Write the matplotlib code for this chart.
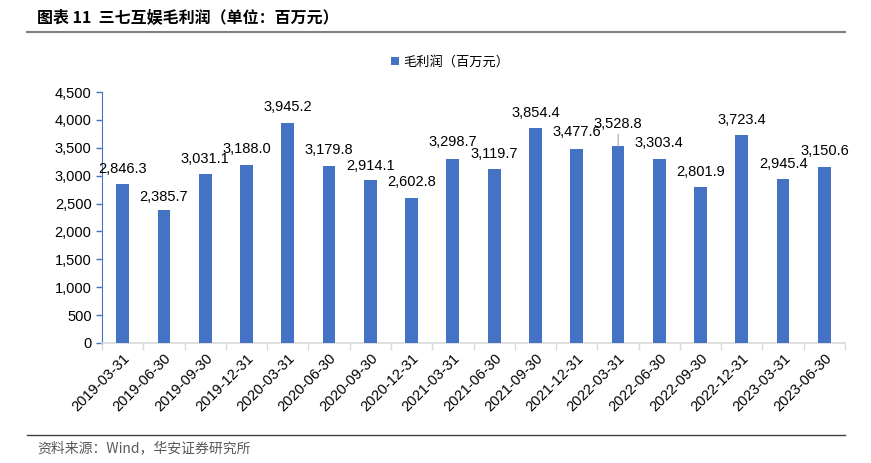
import matplotlib
matplotlib.use("Agg")
import matplotlib.pyplot as plt
from matplotlib.ticker import FuncFormatter, FixedLocator
import numpy as np

plt.rcParams['font.family'] = ['Liberation Sans', 'Noto Sans CJK SC', 'DejaVu Sans']

dates = ["2019-03-31", "2019-06-30", "2019-09-30", "2019-12-31",
         "2020-03-31", "2020-06-30", "2020-09-30", "2020-12-31",
         "2021-03-31", "2021-06-30", "2021-09-30", "2021-12-31",
         "2022-03-31", "2022-06-30", "2022-09-30", "2022-12-31",
         "2023-03-31", "2023-06-30"]
gross_profit = [2846.3, 2385.7, 3031.1, 3188.0, 3945.2, 3179.8, 2914.1, 2602.8,
                3298.7, 3119.7, 3854.4, 3477.6, 3528.8, 3303.4, 2801.9, 3723.4,
                2945.4, 3150.6]
series_name = "毛利润（百万元）"
title = "图表 11  三七互娱毛利润（单位：百万元）"
source = "资料来源：Wind，华安证券研究所"

fig = plt.figure(figsize=(8.71, 4.63), dpi=100)
ax = fig.add_axes([102/871, 1-343/463, (845-102)/871, (343-92)/463])

x = np.arange(len(dates))
bar_color = "#4472C4"
ax.bar(x, gross_profit, width=0.31, color=bar_color, label=series_name, zorder=3)

ax.set_xlim(-0.5, len(dates) - 0.5)
ax.set_ylim(0, 4500)
ax.set_yticks(np.arange(0, 4501, 500))
ax.yaxis.set_major_formatter(FuncFormatter(lambda v, p: f"{int(v):,}"))
ax.tick_params(axis='y', labelsize=10.5, colors=bar_color, labelcolor='black',
               length=4, width=1, direction='out')

ax.set_xticks(x)
ax.set_xticklabels(dates, rotation=45, ha='right', rotation_mode='anchor', fontsize=10.5)
ax.tick_params(axis='x', length=0, pad=6)
ax.xaxis.set_minor_locator(FixedLocator(np.arange(-0.5, len(dates), 1.0)))
ax.tick_params(axis='x', which='minor', length=5, color='#D9D9D9', width=1)

for s in ['top', 'right']:
    ax.spines[s].set_visible(False)
ax.spines['left'].set_color(bar_color)
ax.spines['bottom'].set_color('#D9D9D9')
ax.spines['bottom'].set_linewidth(1.2)

dy_px = [15, 13, 15, 16, 16, 16, 14, 16, 17, 15, 15, 17, 22, 16, 15, 15, 15, 16]
for i, v in enumerate(gross_profit):
    ax.annotate(f"{v:,.1f}", xy=(i, v), xytext=(0, dy_px[i] * 0.72),
                textcoords='offset points', ha='center', va='center', fontsize=10.5,
                color='black', zorder=4)
# leader line for the shifted label
ax.annotate("", xy=(12, 3528.8), xytext=(0.2, 12 * 0.72), textcoords='offset points',
            arrowprops=dict(arrowstyle='-', color='#A6A6A6', lw=0.8,
                            shrinkA=0, shrinkB=0))

leg = fig.legend(loc='center', bbox_to_anchor=(450/871, 1-62/463), frameon=False,
                 handlelength=0.6, handleheight=0.6, handletextpad=0.3,
                 prop={'family': ['Noto Sans CJK SC'], 'size': 9.5})

fig.text(37/871, 1-18/463, title, fontsize=11.5, fontweight='bold',
         family=['Noto Sans CJK SC', 'DejaVu Sans'], va='center', ha='left')
fig.add_artist(plt.Line2D([27/871, 845/871], [1-32/463, 1-32/463], color='#7F7F7F', lw=1.5))
fig.add_artist(plt.Line2D([27/871, 845/871], [1-435/463, 1-435/463], color='#404040', lw=1.0))
fig.text(37/871, 1-448/463, source, fontsize=10, color='#595959',
         family=['Noto Sans CJK SC', 'DejaVu Sans'], va='center', ha='left')

fig.savefig("out.png", dpi=100)
